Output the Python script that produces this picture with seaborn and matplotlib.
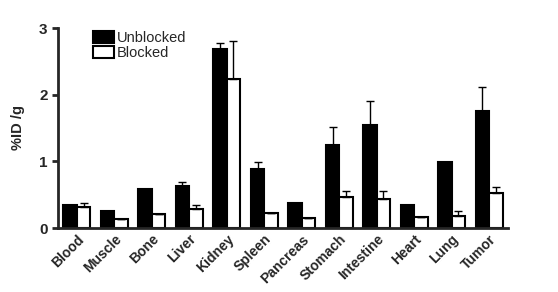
import matplotlib
matplotlib.use('Agg')
import matplotlib.pyplot as plt
import seaborn as sns
import pandas as pd
import numpy as np

# Biodistribution values
organs = ['Blood', 'Muscle', 'Bone', 'Liver', 'Kidney', 'Spleen',
          'Pancreas', 'Stomach', 'Intestine', 'Heart', 'Lung', 'Tumor']
unblocked = [0.35, 0.26, 0.59, 0.63, 2.69, 0.88, 0.37, 1.25, 1.55, 0.35, 0.99, 1.76]
unblocked_err = [0.0, 0.0, 0.0, 0.06, 0.09, 0.11, 0.0, 0.27, 0.35, 0.0, 0.0, 0.35]
blocked = [0.32, 0.14, 0.21, 0.29, 2.24, 0.22, 0.15, 0.46, 0.44, 0.17, 0.18, 0.53]
blocked_err = [0.06, 0.0, 0.0, 0.05, 0.57, 0.0, 0.0, 0.09, 0.11, 0.0, 0.08, 0.08]

df = pd.DataFrame({
    'organ': organs * 2,
    'value': unblocked + blocked,
    'group': ['Unblocked'] * len(organs) + ['Blocked'] * len(organs),
})

sns.set_style('ticks')
plt.rcParams['font.family'] = ['Liberation Sans', 'DejaVu Sans']

fig = plt.figure(figsize=(5.58, 2.92), dpi=100)
ax = fig.add_axes([58 / 558, 1 - 228 / 292, 450 / 558, 200 / 292])

sns.barplot(data=df, x='organ', y='value', hue='group',
            palette={'Unblocked': 'black', 'Blocked': 'white'},
            edgecolor='black', linewidth=1.5, width=0.72, ax=ax)

# upper-only error bars at each bar's centre
for cont, errs in zip(ax.containers, [unblocked_err, blocked_err]):
    xs = [p.get_x() + p.get_width() / 2 for p in cont.patches]
    hs = [p.get_height() for p in cont.patches]
    ax.errorbar(xs, hs, yerr=[np.zeros(len(errs)), errs], fmt='none',
                ecolor='black', elinewidth=1, capsize=3, capthick=1)

ax.set_ylim(0, 3)
ax.set_xlim(-0.5, len(organs) - 0.5)
ax.set_yticks([0, 1, 2, 3])
ax.set_xlabel('')
ax.set_ylabel('%ID /g', fontsize=10.5, fontweight='bold', labelpad=10)
ax.tick_params(axis='x', length=0, pad=3)
ax.tick_params(axis='y', width=2, length=4, labelsize=11)
for lab in ax.get_yticklabels():
    lab.set_fontweight('bold')
ax.set_xticks(range(len(organs)))
ax.set_xticklabels(organs, rotation=45, ha='right', rotation_mode='anchor',
                   fontsize=10, fontweight='bold')
sns.despine(ax=ax)
ax.spines['left'].set_linewidth(2)
ax.spines['bottom'].set_linewidth(2)

leg = ax.legend(loc='upper left', bbox_to_anchor=(0.065, 1.015), frameon=False,
                fontsize=10.5, handlelength=1.4, handleheight=0.9,
                handletextpad=0.2, labelspacing=0.1, borderaxespad=0)

fig.savefig('out.png', dpi=100)
